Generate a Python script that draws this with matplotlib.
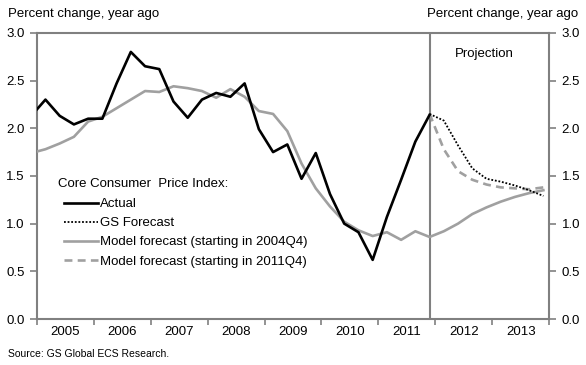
"""
Core CPI: actual vs GS forecast vs model forecasts.
"""
import numpy as np
import matplotlib
matplotlib.use("Agg")
import matplotlib.pyplot as plt

plt.rcParams['font.family'] = ['Liberation Sans', 'DejaVu Sans']

# quarterly values
actual_q = ["2004Q4",
            "2005Q1", "2005Q2", "2005Q3", "2005Q4",
            "2006Q1", "2006Q2", "2006Q3", "2006Q4",
            "2007Q1", "2007Q2", "2007Q3", "2007Q4",
            "2008Q1", "2008Q2", "2008Q3", "2008Q4",
            "2009Q1", "2009Q2", "2009Q3", "2009Q4",
            "2010Q1", "2010Q2", "2010Q3", "2010Q4",
            "2011Q1", "2011Q2", "2011Q3", "2011Q4"]
actual = [2.13,
          2.30, 2.13, 2.04, 2.10,
          2.10, 2.47, 2.80, 2.65,
          2.62, 2.28, 2.11, 2.30,
          2.37, 2.33, 2.47, 1.99,
          1.75, 1.83, 1.47, 1.74,
          1.31, 1.00, 0.91, 0.62,
          1.07, 1.46, 1.86, 2.14]

proj_q = ["2011Q4",
          "2012Q1", "2012Q2", "2012Q3", "2012Q4",
          "2013Q1", "2013Q2", "2013Q3", "2013Q4"]
gs_forecast = [2.15, 2.08, 1.82, 1.58, 1.47, 1.44, 1.40, 1.35, 1.29]
model_2011 = [2.15, 1.78, 1.55, 1.46, 1.41, 1.38, 1.37, 1.36, 1.38]

model_q = actual_q + proj_q[1:]
model_2004 = [1.74,
              1.78, 1.84, 1.91, 2.07,
              2.12, 2.21, 2.30, 2.39,
              2.38, 2.44, 2.42, 2.39,
              2.32, 2.41, 2.33, 2.18,
              2.15, 1.97, 1.63, 1.37,
              1.18, 1.02, 0.93, 0.87,
              0.91, 0.83, 0.92, 0.86,
              0.92, 1.00, 1.10, 1.17,
              1.23, 1.28, 1.32, 1.35]

years = [2005, 2006, 2007, 2008, 2009, 2010, 2011, 2012, 2013]
split_q = "2011Q4"


def qpos(labels):
    # quarter label -> position on a yearly axis
    return np.array([int(s[:4]) + (int(s[5]) - 0.4) / 4 for s in labels])


GRAY_AX = '#808080'
GRAY_LN = '#a0a0a0'
FS = 9.5

fig = plt.figure(figsize=(5.86, 3.65), dpi=100)
ax = fig.add_axes([0.063, 0.126, 0.874, 0.784])

ax.plot(qpos(actual_q), actual, color='black', lw=1.9, label='Actual', zorder=5)
ax.plot(qpos(proj_q), gs_forecast, color='black', lw=1.3, ls=(0, (1, 1)),
        label='GS Forecast', zorder=5)
ax.plot(qpos(model_q), model_2004, color=GRAY_LN, lw=1.9,
        label='Model forecast (starting in 2004Q4)', zorder=4)
ax.plot(qpos(proj_q), model_2011, color=GRAY_LN, lw=1.9, ls=(0, (3, 2)),
        label='Model forecast (starting in 2011Q4)', zorder=4)

ax.axvline(qpos([split_q])[0], color=GRAY_AX, lw=1.5, zorder=3)

ax.set_xlim(2005, 2014)
ax.set_ylim(0, 3.0)

yt = np.arange(0, 3.01, 0.5)
ax.set_yticks(yt)
ax.set_yticklabels([f"{v:.1f}" for v in yt])
ax.tick_params(axis='y', which='both', direction='out', length=5, width=1.2,
               color=GRAY_AX, labelsize=FS, right=True, labelright=True, pad=4)

ax.set_xticks(np.arange(2005, 2015))
ax.set_xticklabels([])
ax.set_xticks([y + 0.5 for y in years], minor=True)
ax.set_xticklabels([str(y) for y in years], minor=True)
ax.tick_params(axis='x', which='major', direction='out', length=4, width=1.2, color=GRAY_AX)
ax.tick_params(axis='x', which='minor', length=0, labelsize=FS, pad=5)

for s in ax.spines.values():
    s.set_color(GRAY_AX)
    s.set_linewidth(1.5)

# legend, with its heading as a separate text so the entries sit indented
fig.text(58 / 586, 1 - 184 / 365, 'Core Consumer  Price Index:', ha='left', va='center',
         fontsize=FS)
ax.legend(loc='upper left', bbox_to_anchor=(64 / 586, 1 - 198 / 365),
          bbox_transform=fig.transFigure, frameon=False, fontsize=FS,
          handlelength=2.6, handletextpad=0.15, labelspacing=0.52,
          borderpad=0, borderaxespad=0)

ax.text(0.873, 0.925, 'Projection', transform=ax.transAxes, ha='center', va='center',
        fontsize=FS)

fig.text(0.014, 0.963, 'Percent change, year ago', ha='left', va='center', fontsize=FS)
fig.text(0.986, 0.963, 'Percent change, year ago', ha='right', va='center', fontsize=FS)
fig.text(0.014, 0.03, 'Source: GS Global ECS Research.', ha='left', va='center', fontsize=7.5)

fig.savefig("out.png", dpi=100)
